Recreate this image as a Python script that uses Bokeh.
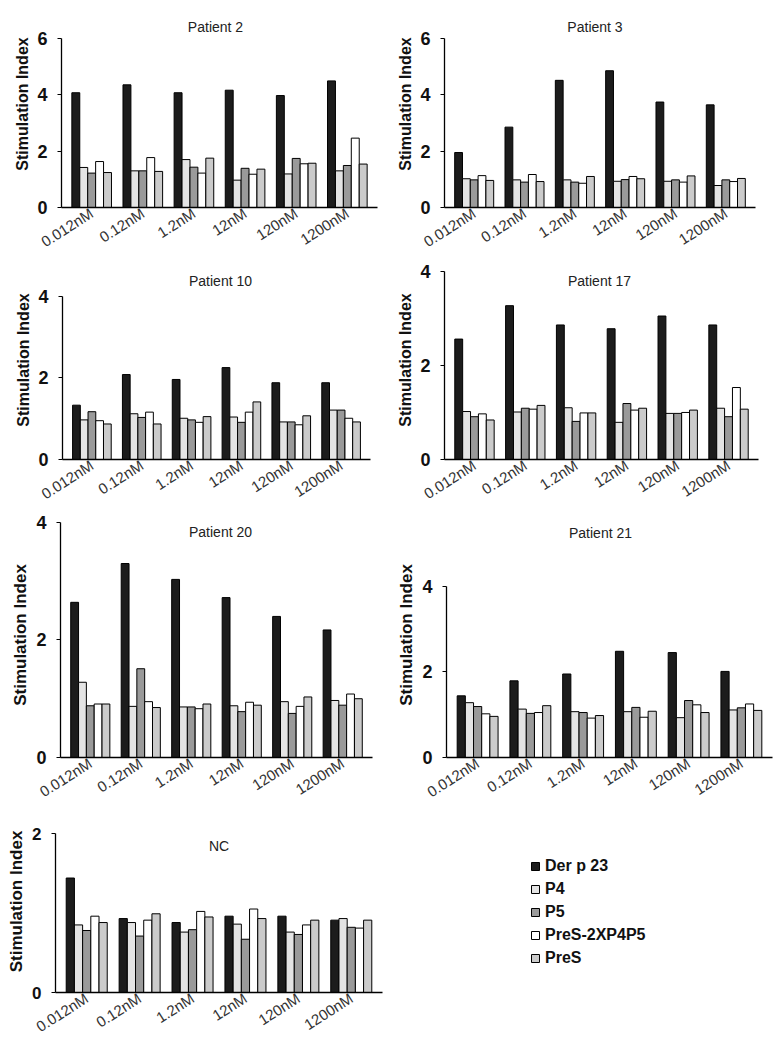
from bokeh.plotting import figure
from bokeh.models import (FactorRange, Range1d, FixedTicker, Label, Legend,
                          LegendItem, ColumnDataSource)
from bokeh.transform import dodge
from bokeh.layouts import column, row
from bokeh.embed import file_html
from bokeh.resources import INLINE

FONT = "Liberation Sans"

conc = ["0.012nM", "0.12nM", "1.2nM", "12nM", "120nM", "1200nM"]
series = ["Der p 23", "P4", "P5", "PreS-2XP4P5", "PreS"]
colors = ["#1c1c1c", "#e4e4e4", "#9a9a9a", "#ffffff", "#cbcbcb"]

p2_derp23 = [4.07, 4.35, 4.07, 4.16, 3.97, 4.49]
p2_p4 = [1.42, 1.30, 1.70, 0.97, 1.19, 1.30]
p2_p5 = [1.22, 1.30, 1.43, 1.39, 1.74, 1.49]
p2_pres2x = [1.63, 1.77, 1.22, 1.18, 1.55, 2.46]
p2_pres = [1.24, 1.28, 1.75, 1.36, 1.57, 1.54]

p3_derp23 = [1.95, 2.85, 4.51, 4.85, 3.74, 3.64]
p3_p4 = [1.02, 0.98, 0.98, 0.93, 0.93, 0.78]
p3_p5 = [0.98, 0.90, 0.90, 0.99, 0.98, 0.98]
p3_pres2x = [1.13, 1.17, 0.86, 1.10, 0.90, 0.92]
p3_pres = [0.96, 0.92, 1.10, 1.02, 1.12, 1.03]

p10_derp23 = [1.33, 2.08, 1.96, 2.25, 1.88, 1.88]
p10_p4 = [0.97, 1.12, 1.01, 1.04, 0.92, 1.21]
p10_p5 = [1.17, 1.03, 0.97, 0.91, 0.92, 1.21]
p10_pres2x = [0.95, 1.16, 0.91, 1.16, 0.85, 1.01]
p10_pres = [0.87, 0.87, 1.05, 1.41, 1.07, 0.92]

p17_derp23 = [2.56, 3.27, 2.86, 2.78, 3.05, 2.86]
p17_p4 = [1.02, 1.01, 1.10, 0.79, 0.98, 1.09]
p17_p5 = [0.91, 1.09, 0.81, 1.19, 0.98, 0.91]
p17_pres2x = [0.97, 1.07, 0.99, 1.05, 1.00, 1.53]
p17_pres = [0.84, 1.15, 0.99, 1.09, 1.05, 1.07]

p20_derp23 = [2.64, 3.30, 3.03, 2.72, 2.40, 2.17]
p20_p4 = [1.28, 0.87, 0.86, 0.88, 0.95, 0.97]
p20_p5 = [0.88, 1.51, 0.86, 0.78, 0.75, 0.89]
p20_pres2x = [0.91, 0.95, 0.83, 0.94, 0.87, 1.08]
p20_pres = [0.91, 0.85, 0.91, 0.89, 1.03, 1.00]

p21_derp23 = [1.44, 1.79, 1.95, 2.48, 2.45, 2.01]
p21_p4 = [1.28, 1.13, 1.07, 1.07, 0.93, 1.11]
p21_p5 = [1.19, 1.03, 1.05, 1.17, 1.33, 1.16]
p21_pres2x = [1.02, 1.05, 0.92, 0.94, 1.23, 1.25]
p21_pres = [0.96, 1.21, 0.98, 1.08, 1.05, 1.10]

nc_derp23 = [1.44, 0.93, 0.88, 0.96, 0.96, 0.91]
nc_p4 = [0.85, 0.88, 0.76, 0.86, 0.76, 0.93]
nc_p5 = [0.78, 0.71, 0.79, 0.67, 0.73, 0.82]
nc_pres2x = [0.96, 0.91, 1.02, 1.05, 0.85, 0.81]
nc_pres = [0.88, 0.99, 0.95, 0.93, 0.91, 0.91]

offsets = [-0.31, -0.155, 0.0, 0.155, 0.31]
BAR_W = 0.155


def panel(title, vals, ymax, yticks, w, h, bl, axis_top, br, bb, tdx, tdy,
          lab_fs="16px", tick_fs="18px"):
    # frame spans from the figure top to the x axis; the y axis line is
    # bounded to [0, ymax] so that the panel title can sit inside the frame
    frame_h = h - bb
    axis_h = h - bb - axis_top
    y_end = ymax * frame_h / axis_h
    data = {"conc": conc}
    for i, v in enumerate(vals):
        data[f"s{i}"] = v
    src = ColumnDataSource(data)
    p = figure(x_range=FactorRange(factors=conc, range_padding=0.09,
                                   range_padding_units="absolute"),
               y_range=Range1d(0, y_end), width=w, height=h,
               min_border_left=bl, min_border_top=0,
               min_border_right=br, min_border_bottom=bb,
               output_backend="svg", toolbar_location=None, title=None)
    p.frame_align = False
    for i in range(len(series)):
        p.vbar(x=dodge("conc", offsets[i], range=p.x_range), top=f"s{i}",
               width=BAR_W, source=src, fill_color=colors[i],
               line_color="black", line_width=1)
    p.xgrid.visible = False
    p.ygrid.visible = False
    p.outline_line_color = None
    p.background_fill_color = "white"

    xa = p.xaxis[0]
    xa.axis_line_width = 1.6
    xa.axis_line_color = "black"
    xa.major_tick_line_color = None
    xa.minor_tick_line_color = None
    xa.major_tick_out = 0
    xa.major_tick_in = 0
    xa.major_label_orientation = 0.57
    xa.major_label_standoff = 4
    xa.major_label_text_font = FONT
    xa.major_label_text_font_size = "15px"
    xa.major_label_text_color = "#333333"

    ya = p.yaxis[0]
    ya.bounds = (0, ymax)
    ya.ticker = FixedTicker(ticks=yticks)
    ya.axis_line_width = 1.3
    ya.axis_line_color = "black"
    ya.minor_tick_line_color = None
    ya.major_tick_out = 4
    ya.major_tick_in = 0
    ya.major_tick_line_width = 1
    ya.major_label_standoff = 10
    ya.major_label_text_font = FONT
    ya.major_label_text_font_size = tick_fs
    ya.major_label_text_font_style = "bold"
    ya.major_label_text_color = "#111111"
    ya.axis_label = "Stimulation Index"
    ya.axis_label_text_font = FONT
    ya.axis_label_text_font_size = lab_fs
    ya.axis_label_text_font_style = "bold"
    ya.axis_label_text_color = "#111111"
    ya.axis_label_standoff = 3

    p.add_layout(Label(x=3.0, y=ymax, x_offset=tdx, y_offset=tdy, text=title,
                       text_align="center", text_baseline="middle",
                       text_font=FONT, text_font_size="14px",
                       text_color="#222222"))
    return p


LW = 394
RW = 386

f2 = panel("Patient 2", [p2_derp23, p2_p4, p2_p5, p2_pres2x, p2_pres], 6, [0, 2, 4, 6],
           LW, 260, 61, 38, 17, 52, -4, 11)
f3 = panel("Patient 3", [p3_derp23, p3_p4, p3_p5, p3_pres2x, p3_pres], 6, [0, 2, 4, 6],
           RW, 260, 48, 38, 25, 52, -5, 11)
f10 = panel("Patient 10", [p10_derp23, p10_p4, p10_p5, p10_pres2x, p10_pres], 4, [0, 2, 4],
            LW, 252, 62, 36, 24, 51, 4, 15)
f17 = panel("Patient 17", [p17_derp23, p17_p4, p17_p5, p17_pres2x, p17_pres], 4, [0, 2, 4],
            RW, 252, 48, 11, 22, 50, -2, -10)
f20 = panel("Patient 20", [p20_derp23, p20_p4, p20_p5, p20_pres2x, p20_pres], 4, [0, 2, 4],
            LW, 298, 60, 10, 22, 50, 4, -10, lab_fs="17px")
f21 = panel("Patient 21", [p21_derp23, p21_p4, p21_p5, p21_pres2x, p21_pres], 4, [0, 2, 4],
            RW, 298, 47, 74, 8, 52, -9, 53, lab_fs="17px")
fnc = panel("NC", [nc_derp23, nc_p4, nc_p5, nc_pres2x, nc_pres], 2, [0, 2],
            LW, 238, 55, 23, 12, 56, 0, -12, lab_fs="17px", tick_fs="17px")

# legend panel
lg = figure(width=RW, height=238, min_border_left=136, min_border_top=47,
            min_border_right=0, min_border_bottom=0,
            x_range=Range1d(0, 1), y_range=Range1d(0, 1),
            x_axis_location=None, y_axis_location=None,
            output_backend="svg", toolbar_location=None, title=None)
lg.frame_align = False
lg.xgrid.visible = False
lg.ygrid.visible = False
lg.outline_line_color = None
items = []
for i, name in enumerate(series):
    r = lg.vbar(x=[-10], top=[-10], width=0.5, fill_color=colors[i],
                line_color="black", line_width=1)
    items.append(LegendItem(label=name, renderers=[r]))
legend = Legend(items=items, location="top_left", margin=0, padding=0,
                glyph_width=10, glyph_height=10, label_height=10,
                spacing=5, label_standoff=5,
                label_text_font=FONT, label_text_font_size="16px",
                label_text_font_style="bold", label_text_color="#111111",
                border_line_color=None, background_fill_alpha=0)
lg.add_layout(legend)

layout = column(row(f2, f3), row(f10, f17), row(f20, f21), row(fnc, lg))

open("out.html", "w").write(file_html(layout, INLINE))
